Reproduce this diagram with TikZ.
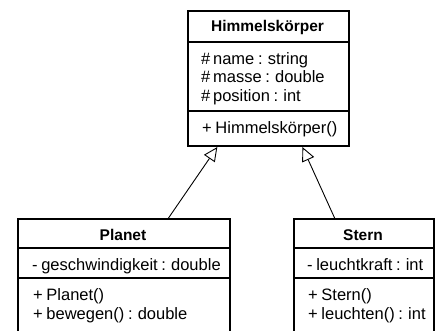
\documentclass[tikz,border=0pt]{standalone}
\usepackage{fontspec}
\setmainfont{Liberation Sans}
\usetikzlibrary{arrows.meta,calc}

% member text: slightly tighter word spacing
\newcommand{\memberfont}{\fontsize{16.5}{18}\selectfont\spaceskip=0.22em plus 0.05em\relax}

\tikzset{
  classbox/.style={draw=black, line width=2pt, fill=white, anchor=north west, inner sep=0pt},
  sepline/.style={line width=1.2pt},
  title/.style={inner sep=0pt, anchor=base, font=\fontsize{15.5}{18}\selectfont\bfseries},
  member/.style={inner sep=0pt, anchor=base west, font=\memberfont},
  inherits/.style={line width=0.9pt, -{Triangle[open, length=14pt, width=13pt, line width=0.9pt, fill=white]}},
}

\begin{document}
\begin{tikzpicture}[x=1pt, y=-1pt]
  \useasboundingbox (0,0) rectangle (439,330);
  \clip (0,0) rectangle (439,330);

  % base class
  \node[classbox, minimum width=161pt, minimum height=135pt] (h) at (187,10) {};
  \draw[sepline] (187,42) -- (348,42);
  \draw[sepline] (187,111) -- (348,111);
  \node[title] (ht) at (267.5,31.5) {Himmelskörper};
  \node[member] (ha1) at (201,64) {\#\,name : string};
  \node[member] (ha2) at (201,82.5) {\#\,masse : double};
  \node[member] (ha3) at (201,101) {\#\,position : int};
  \node[member] (hm1) at (202,133) {+ Himmelskörper()};

  % subclass Planet
  \node[classbox, minimum width=212pt, minimum height=150pt] (p) at (17,218) {};
  \draw[sepline] (17,248) -- (229,248);
  \draw[sepline] (17,278) -- (229,278);
  \node[title] (pt) at (123,240.5) {Planet};
  \node[member] (pa1) at (32,270) {- geschwindigkeit : double};
  \node[member] (pm1) at (33,300) {+ Planet()};
  \node[member] (pm2) at (33,319) {+ bewegen() : double};

  % subclass Stern
  \node[classbox, minimum width=140pt, minimum height=150pt] (s) at (293,218) {};
  \draw[sepline] (293,248) -- (433,248);
  \draw[sepline] (293,278) -- (433,278);
  \node[title] (st) at (363,240.5) {Stern};
  \node[member] (sa1) at (307,270) {- leuchtkraft : int};
  \node[member] (sm1) at (308,300) {+ Stern()};
  \node[member] (sm2) at (308,319) {+ leuchten() : int};

  % generalisation arrows
  \coordinate (pfrom) at ($(p.north west)!0.708!(p.north east)$);
  \coordinate (pto)   at ($(h.south west)!0.186!(h.south east)$);
  \coordinate (sfrom) at ($(s.north west)!0.293!(s.north east)$);
  \coordinate (sto)   at ($(h.south west)!0.708!(h.south east)$);
  \draw[inherits] (pfrom) -- (pto);
  \draw[inherits] (sfrom) -- (sto);
\end{tikzpicture}
\end{document}
